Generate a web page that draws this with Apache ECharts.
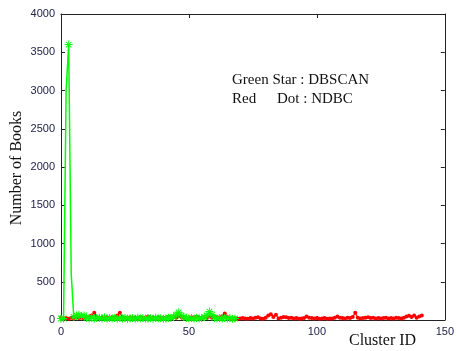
<!DOCTYPE html>
<html>
<head>
<meta charset="utf-8">
<script src="https://cdn.jsdelivr.net/npm/echarts@6/dist/echarts.min.js"></script>
<style>
  html, body { margin: 0; padding: 0; background: #fff; }
  #chart { width: 457px; height: 351px; }
</style>
</head>
<body>
<div id="chart"></div>
<script>
// DBSCAN (green star) books per cluster, IDs 0..68
const dbscanBooks = [
  20, 20, 3000, 3600, 600, 40, 60, 70, 50, 60,
  30, 20, 40, 15, 25, 30, 20, 35, 15, 25,
  20, 30, 15, 25, 20, 30, 15, 20, 25, 15,
  30, 20, 25, 15, 20, 25, 15, 30, 20, 25,
  15, 20, 30, 25, 40, 70, 100, 60, 40, 30,
  20, 25, 15, 30, 20, 25, 40, 60, 110, 70,
  30, 20, 25, 15, 30, 20, 25, 15, 20
];
// NDBC (red dot) books per cluster, IDs 0..141
const ndbcBooks = [
  30, 20, 25, 15, 30, 20, 40, 25, 30, 20,
  35, 40, 60, 95, 40, 25, 30, 20, 35, 25,
  40, 30, 60, 95, 40, 30, 20, 35, 25, 30,
  20, 40, 25, 30, 45, 20, 30, 25, 35, 20,
  30, 25, 40, 20, 35, 30, 50, 40, 25, 30,
  20, 35, 25, 40, 30, 20, 35, 25, 50, 30,
  40, 25, 35, 50, 85, 40, 20, 15, 20, 15,
  20, 25, 20, 15, 25, 20, 30, 35, 20, 15,
  30, 60, 75, 40, 70, 20, 30, 40, 35, 25,
  30, 20, 25, 15, 20, 25, 45, 30, 25, 20,
  25, 15, 20, 25, 15, 20, 20, 30, 45, 30,
  25, 20, 30, 25, 40, 95, 30, 20, 25, 30,
  35, 25, 30, 20, 25, 20, 25, 30, 20, 25,
  20, 30, 25, 20, 30, 45, 55, 40, 60, 30,
  45, 60
];
const xTicks = [0, 50, 100, 150];
const yTicks = [0, 500, 1000, 1500, 2000, 2500, 3000, 3500, 4000];

// asterisk marker like matlab '*'
const asterisk = 'path://M-1.2,-10H1.2V10H-1.2Z M-10,-1.2H10V1.2H-10Z ' +
  'M-8,-6.3L6.3,8L8,6.3L-6.3,-8Z M-8,6.3L6.3,-8L8,-6.3L-6.3,8Z';

const labelColor = '#22224a';
const axisLine = { show: true, onZero: false, lineStyle: { color: '#222', width: 1 } };
const tickIn = { show: true, inside: true, length: 4, lineStyle: { color: '#222' } };

const dbMax = Math.max(...dbscanBooks);
const dbData = dbscanBooks.map((v, i) => {
  // the tall spike only shows its star at the peak
  if (v > 200 && v < dbMax) return { value: [i, v], symbol: 'none' };
  return [i, v];
});

const chart = echarts.init(document.getElementById('chart'));
chart.setOption({
  animation: false,
  backgroundColor: '#fff',
  grid: { left: 61, right: 10, top: 14, bottom: 31 },
  xAxis: [
    {
      type: 'value', min: xTicks[0], max: xTicks[xTicks.length - 1], interval: 50,
      axisLine: axisLine, axisTick: tickIn, splitLine: { show: false },
      axisLabel: { color: labelColor, fontFamily: 'Liberation Sans', fontSize: 11, margin: 6, formatter: v => String(v) }
    },
    {
      type: 'value', position: 'top', min: 0, max: 150, interval: 50,
      axisLine: axisLine, axisTick: tickIn, axisLabel: { show: false }, splitLine: { show: false }
    }
  ],
  yAxis: [
    {
      type: 'value', min: yTicks[0], max: yTicks[yTicks.length - 1], interval: 500,
      axisLine: axisLine, axisTick: tickIn, splitLine: { show: false },
      axisLabel: { color: labelColor, fontFamily: 'Liberation Sans', fontSize: 11, margin: 6, formatter: v => String(v) }
    },
    {
      type: 'value', position: 'right', min: 0, max: 4000, interval: 500,
      axisLine: axisLine, axisTick: tickIn, axisLabel: { show: false }, splitLine: { show: false }
    }
  ],
  series: [
    {
      name: 'NDBC', type: 'line',
      data: ndbcBooks.map((v, i) => [i, v]),
      symbol: 'circle', symbolSize: 4, showAllSymbol: true,
      lineStyle: { color: '#ff0000', width: 1.2 },
      itemStyle: { color: '#ff0000' }
    },
    {
      name: 'DBSCAN', type: 'line',
      data: dbData,
      symbol: asterisk, symbolSize: 8, showAllSymbol: true,
      lineStyle: { color: '#00ff00', width: 1.5 },
      itemStyle: { color: '#00ff00' }
    }
  ],
  graphic: [
    { type: 'text', left: 232, top: 73, style: { text: 'Green Star : DBSCAN', font: '15px "Liberation Serif"', fill: '#111' } },
    { type: 'text', left: 232, top: 92, style: { text: 'Red', font: '15px "Liberation Serif"', fill: '#111' } },
    { type: 'text', left: 277, top: 92, style: { text: 'Dot : NDBC', font: '15px "Liberation Serif"', fill: '#111' } },
    { type: 'text', left: 349, top: 333, style: { text: 'Cluster ID', font: '16px "Liberation Serif"', fill: '#111' } },
    {
      type: 'text', x: 17, y: 168, rotation: Math.PI / 2,
      style: { text: 'Number of Books', font: '16px "Liberation Serif"', fill: '#111', align: 'center', verticalAlign: 'middle' }
    }
  ]
});
</script>
</body>
</html>
